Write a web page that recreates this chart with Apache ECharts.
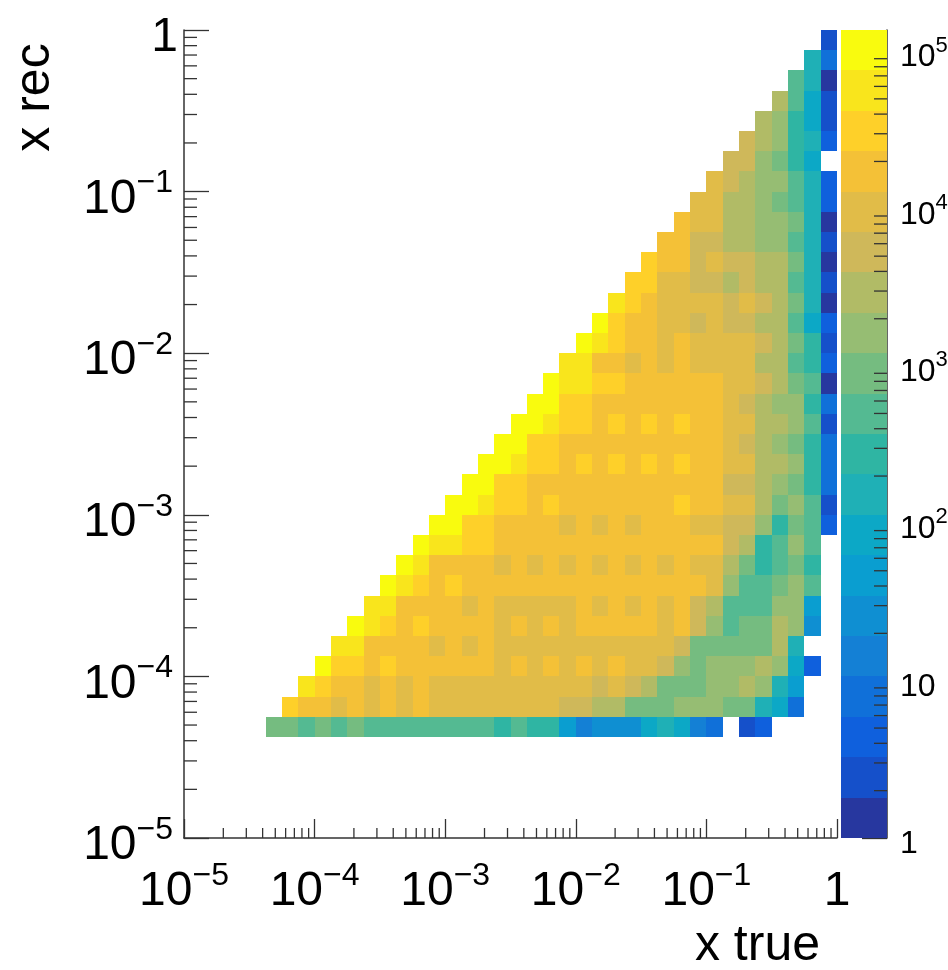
<!DOCTYPE html>
<html><head><meta charset="utf-8">
<style>html,body{margin:0;padding:0;background:#fff}#c{width:948px;height:970px}</style>
<script src="https://cdn.jsdelivr.net/npm/echarts@6/dist/echarts.min.js"></script>
</head><body><div id="c"></div>
<script>
// Palette bands of the z scale, bottom (1) to top (20)
const bandColors = ['#27379f','#1550ca','#0f60dd','#1070d9','#1480d5','#0f8fd2','#0a9ed0','#0ca8c6','#1fb0b6','#2fb5a3',
                    '#54ba92','#75bc80','#96bd73','#b1bb66','#cfb85a','#e1bc48','#f4c137','#fed029','#f9e51c','#f9fb0e'];
const binsPerDecade = 8;
const zMax = 1.37e5;
const minorMultipliers = [2,3,4,5,6,7,8,9];
const decades = [-5,-4,-3,-2,-1];
const zDecades = [0,1,2,3,4,5];
// Band of each cell: rowBands[r] holds row r of x rec (from the bottom); its first cell is in column r (x true = x rec diagonal).
const firstRow = 5;
const rowBands = [
 [12,12,11,12,11,12,11,11,11,11,11,11,11,11,10,11,10,10,7,5,6,6,6,8,9,8,5,4,null,2,3],
 [18,17,17,16,17,16,17,16,17,16,16,16,16,16,16,16,16,15,15,14,14,12,12,12,13,13,13,12,12,9,8,4],
 [19,18,17,17,16,17,16,17,16,16,16,16,16,16,16,16,16,16,15,16,15,14,12,12,12,13,13,14,13,9,7],
 [20,18,18,17,18,17,17,17,17,17,17,16,17,16,17,16,17,16,17,16,16,15,13,12,13,13,13,14,13,8,3],
 [19,19,17,17,17,17,16,17,16,17,16,16,16,16,16,16,16,16,16,16,16,15,12,12,12,12,12,14,9],
 [20,19,18,17,18,17,17,17,17,16,17,16,17,16,17,17,17,17,17,16,17,15,13,11,12,12,14,13,6],
 [19,19,17,17,17,17,16,17,16,16,16,16,16,17,16,17,16,17,16,17,15,14,11,11,11,13,13,7],
 [20,19,18,17,18,17,17,17,17,17,17,17,17,17,17,17,17,17,17,17,16,13,11,11,12,13,11],
 [20,19,17,17,17,17,16,17,16,17,16,17,16,17,16,17,16,17,16,16,14,12,10,11,12,10],
 [20,19,19,18,18,17,17,17,17,17,17,17,17,17,17,17,17,17,17,15,14,10,11,13,11],
 [20,20,18,18,17,17,17,17,16,17,16,17,16,17,17,17,16,16,15,15,13,10,12,11,3],
 [20,20,19,18,18,17,18,17,17,17,17,17,17,17,18,17,17,16,16,14,12,13,11,2],
 [20,20,18,18,17,17,17,17,17,17,17,17,17,17,17,17,15,15,14,13,12,10,4],
 [20,20,19,18,18,17,18,17,18,17,18,17,18,17,17,16,16,14,14,13,10,4],
 [20,20,18,18,17,17,17,17,17,17,17,17,17,17,16,15,14,13,12,10,4],
 [20,20,19,18,18,17,18,17,18,17,18,17,17,16,16,14,14,13,11,2],
 [20,20,18,18,17,17,17,17,17,17,17,17,16,15,14,13,13,10,4],
 [20,19,19,18,18,17,17,17,17,17,17,16,16,15,14,12,11,1],
 [19,19,17,17,16,17,16,17,16,16,16,16,14,14,11,10,3],
 [20,19,18,17,17,16,17,16,16,16,16,15,14,12,10,2],
 [20,18,17,17,16,16,15,16,15,15,14,14,11,8,3],
 [19,18,17,16,16,16,16,15,16,15,14,12,9,1],
 [18,18,16,16,15,15,14,15,14,14,11,9,2],
 [18,17,17,15,16,15,15,14,14,12,9,1],
 [17,17,15,15,14,14,13,13,11,9,2],
 [17,16,16,14,14,13,13,12,9,1],
 [16,16,14,14,13,12,11,9,3],
 [16,15,14,13,13,11,9,3],
 [15,15,13,12,10,8,null],
 [15,14,13,10,9,3],
 [14,13,10,8,2],
 [14,11,8,2],
 [11,9,1],
 [9,4],
 [2]
];

const edge = i => Math.pow(10, -5 + i / binsPerDecade);
const zEdge = i => Math.pow(zMax, i / bandColors.length);
const cells = [];
rowBands.forEach((row, k) => {
  const r = firstRow + k;
  row.forEach((band, j) => {
    if (band === null) return;
    const c = r + j;
    cells.push([edge(c), edge(c + 1), edge(r), edge(r + 1), band]);
  });
});
const zCells = bandColors.map((_, i) => [0, 1, zEdge(i), zEdge(i + 1), i + 1]);

const xyMinor = [];
decades.forEach(d => minorMultipliers.forEach(m => {
  const v = m * Math.pow(10, d);
  xyMinor.push([v, 1e-5, 'x'], [1e-5, v, 'y']);
}));
const zMinor = [];
zDecades.forEach(d => minorMultipliers.forEach(m => {
  const v = m * Math.pow(10, d);
  if (v <= zMax) zMinor.push([1, v]);
}));

const rect = (params, api) => {
  const a = api.coord([api.value(0), api.value(2)]);
  const b = api.coord([api.value(1), api.value(3)]);
  const x0 = Math.round(a[0]), x1 = Math.round(b[0]), y0 = Math.round(a[1]), y1 = Math.round(b[1]);
  return {type:'rect', shape:{x:x0, y:y1, width:x1-x0, height:y0-y1},
          style:{fill: bandColors[api.value(4) - 1]}};
};
const inkStyle = {stroke:'#333', lineWidth:1.3};
const xyTick = (params, api) => {
  const p = api.coord([api.value(0), api.value(1)]);
  const isX = xyMinor[params.dataIndex][2] === 'x';
  return {type:'line', shape:{x1:p[0], y1:p[1], x2:isX?p[0]:p[0]+13, y2:isX?p[1]-10:p[1]}, style:inkStyle};
};
const zTick = (params, api) => {
  const p = api.coord([api.value(0), api.value(1)]);
  return {type:'line', shape:{x1:p[0], y1:p[1], x2:p[0]-13, y2:p[1]}, style:inkStyle};
};
const pow10Label = big => v => {
  const e = Math.round(Math.log10(v));
  if (e === 0) return '{b|1}';
  if (big && e === 1) return '{b|10}';
  return '{b|10}{s|' + (e < 0 ? '\u2212' + (-e) : e) + '}';
};
const font = 'Liberation Sans';
const richX = {
  b:{fontFamily:font, fontSize:48, color:'#000', lineHeight:64, verticalAlign:'bottom'},
  s:{fontFamily:font, fontSize:32, color:'#000', lineHeight:64, verticalAlign:'bottom', padding:[0,0,24,0]}
};
const richY = {
  b:{fontFamily:font, fontSize:48, color:'#000', lineHeight:64, verticalAlign:'bottom'},
  s:{fontFamily:font, fontSize:32, color:'#000', lineHeight:64, verticalAlign:'bottom', padding:[0,5,24,0]}
};
const richZ = {
  b:{fontFamily:font, fontSize:32, color:'#000', lineHeight:44, verticalAlign:'bottom'},
  s:{fontFamily:font, fontSize:22, color:'#000', lineHeight:44, verticalAlign:'bottom', padding:[0,0,17,0]}
};
const line = {show:true, onZero:false, lineStyle:{color:'#333', width:1.5}};

const option = {
  animation:false,
  backgroundColor:'#fff',
  grid:[
    {left:184, top:30, width:653, height:808, outerBoundsMode:'none'},
    {left:841, top:30, width:46, height:808, outerBoundsMode:'none'}
  ],
  xAxis:[
    {type:'log', logBase:10, min:1e-5, max:1, gridIndex:0, axisLine:line,
     axisTick:{inside:true, length:19, lineStyle:{color:'#333', width:1.3}},
     axisLabel:{formatter:pow10Label(false), rich:richX, margin:14, showMinLabel:true, showMaxLabel:true},
     splitLine:{show:false}, minorTick:{show:false},
     name:'x true', nameLocation:'middle', nameGap:74,
     nameTextStyle:{fontFamily:font, fontSize:50, color:'#000', padding:[0,0,0,494]}},
    {type:'value', min:0, max:1, gridIndex:1, show:false}
  ],
  yAxis:[
    {type:'log', logBase:10, min:1e-5, max:1, gridIndex:0, axisLine:line,
     axisTick:{inside:true, length:25, lineStyle:{color:'#333', width:1.3}},
     axisLabel:{formatter:pow10Label(false), rich:richY, margin:6, align:'right', showMinLabel:true, showMaxLabel:true},
     splitLine:{show:false}, minorTick:{show:false},
     name:'x rec', nameLocation:'middle', nameRotate:90, nameGap:124,
     nameTextStyle:{fontFamily:font, fontSize:50, color:'#000', padding:[0,0,0,673]}},
    {type:'log', logBase:10, min:1, max:zMax, gridIndex:1, position:'right', axisLine:line,
     axisTick:{inside:true, length:25, lineStyle:{color:'#333', width:1.3}, customValues:zDecades.map(d=>Math.pow(10,d))},
     axisLabel:{formatter:pow10Label(true), rich:richZ, margin:13, align:'left', customValues:zDecades.map(d=>Math.pow(10,d))},
     splitLine:{show:false}, minorTick:{show:false}}
  ],
  series:[
    {type:'custom', name:'x rec vs x true', xAxisIndex:0, yAxisIndex:0, data:cells, renderItem:rect, encode:{x:[0,1], y:[2,3]}, z:1, silent:true},
    {type:'custom', name:'z scale', xAxisIndex:1, yAxisIndex:1, data:zCells, renderItem:rect, encode:{x:[0,1], y:[2,3]}, z:1, silent:true},
    {type:'custom', name:'minor ticks', xAxisIndex:0, yAxisIndex:0, data:xyMinor.map(d=>[d[0],d[1]]), renderItem:xyTick, encode:{x:0, y:1}, z:5, silent:true, clip:false},
    {type:'custom', name:'z minor ticks', xAxisIndex:1, yAxisIndex:1, data:zMinor, renderItem:zTick, encode:{x:0, y:1}, z:5, silent:true, clip:false}
  ]
};
echarts.init(document.getElementById('c'), null, {renderer:'canvas'}).setOption(option);
</script></body></html>
